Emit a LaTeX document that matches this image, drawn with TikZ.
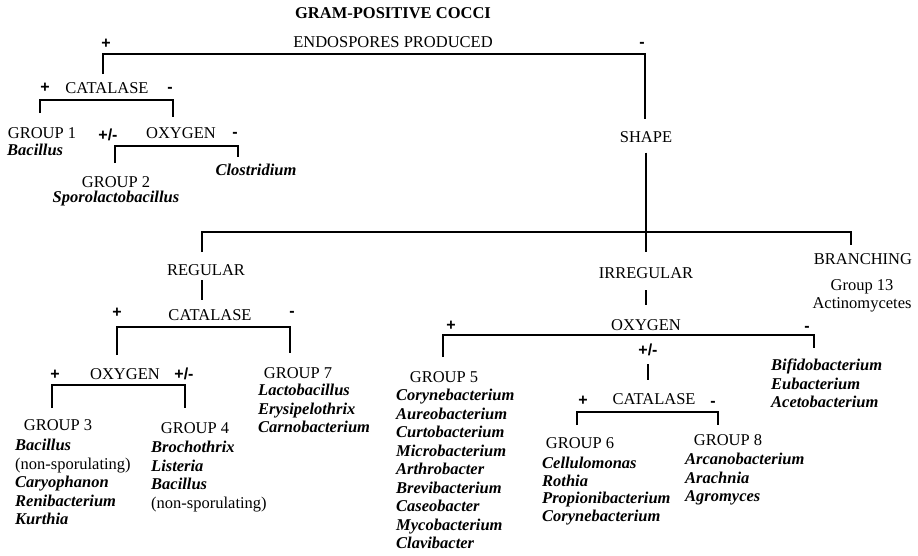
\documentclass[tikz,border=0pt]{standalone}
\usepackage{fontspec}
\setmainfont{Liberation Serif}
\newfontfamily\signfont{Liberation Sans}
\usetikzlibrary{positioning}

\begin{document}
\begin{tikzpicture}[x=1pt,y=-1pt]
      \tikzstyle{lbl}=[inner sep=0pt, font=\fontsize{16.5}{18.5}\selectfont]
      \tikzstyle{head}=[inner sep=0pt, font=\fontsize{16.5}{18.5}\selectfont\bfseries]
      \tikzstyle{genus}=[inner sep=0pt, anchor=north west, align=left, font=\fontsize{16.5}{18.5}\selectfont\bfseries\itshape]
      \tikzstyle{sgn}=[inner sep=0pt, font=\fontsize{16}{16}\signfont\bfseries]
      \tikzstyle{connect}=[line width=1.3pt]

      \useasboundingbox (0,0) rectangle (918,555);

      % top split
      \node[head] (title) at (393,13) {GRAM-POSITIVE COCCI};
      \node[lbl] (endo) at (393,42) {ENDOSPORES PRODUCED};
      \node[sgn] (endop) at (106,44) {+};
      \node[sgn] (endom) at (642,45) {-};

      % endospores +
      \node[sgn] (cat1p) at (45,88) {+};
      \node[lbl] (cat1) at (107,88) {CATALASE};
      \node[sgn] (cat1m) at (170,90) {-};
      \node[lbl] (g1) at (42,133) {GROUP 1};
      \node[genus] (g1list) at (7,144) {Bacillus};
      \node[sgn] (oxy1pm) at (108,135) {+/-};
      \node[lbl] (oxy1) at (181,133) {OXYGEN};
      \node[sgn] (oxy1m) at (235,135) {-};
      \node[lbl] (g2) at (116,182) {GROUP 2};
      \node[genus, anchor=center] (g2list) at (116,199) {Sporolactobacillus};
      \node[genus, anchor=center] (clos) at (256,170) {Clostridium};

      % endospores -
      \node[lbl] (shape) at (646,137) {SHAPE};
      \node[lbl] (reg) at (206,270) {REGULAR};
      \node[lbl] (irreg) at (646,273) {IRREGULAR};
      \node[lbl] (branch) at (863,259) {BRANCHING};
      \node[lbl, align=center, anchor=north] (g13) at (862,279) {Group 13\\Actinomycetes};

      % regular
      \node[sgn] (cat2p) at (117,313) {+};
      \node[lbl] (cat2) at (210,315) {CATALASE};
      \node[sgn] (cat2m) at (292,314) {-};
      \node[sgn] (oxy2p) at (55,375) {+};
      \node[lbl] (oxy2) at (125,374) {OXYGEN};
      \node[sgn] (oxy2pm) at (184,374) {+/-};
      \node[lbl] (g3) at (58,425) {GROUP 3};
      \node[genus] (g3list) at (15,439) {Bacillus\\{\normalfont (non-sporulating)}\\Caryophanon\\Renibacterium\\Kurthia};
      \node[lbl] (g4) at (195,428) {GROUP 4};
      \node[genus] (g4list) at (151,441) {Brochothrix\\Listeria\\Bacillus\\{\normalfont (non-sporulating)}};
      \node[lbl] (g7) at (298,373) {GROUP 7};
      \node[genus] (g7list) at (258,384) {Lactobacillus\\Erysipelothrix\\Carnobacterium};

      % irregular
      \node[sgn] (oxy3p) at (451,326) {+};
      \node[lbl] (oxy3) at (646,325) {OXYGEN};
      \node[sgn] (oxy3m) at (807,329) {-};
      \node[sgn] (oxy3pm) at (648,350) {+/-};
      \node[lbl] (g5) at (444,377) {GROUP 5};
      \node[genus] (g5list) at (396,389) {Corynebacterium\\Aureobacterium\\Curtobacterium\\Microbacterium\\Arthrobacter\\Brevibacterium\\Caseobacter\\Mycobacterium\\Clavibacter};
      \node[genus] (bifid) at (771,359) {Bifidobacterium\\Eubacterium\\Acetobacterium};
      \node[sgn] (cat3p) at (583,401) {+};
      \node[lbl] (cat3) at (654,399) {CATALASE};
      \node[sgn] (cat3m) at (713,404) {-};
      \node[lbl] (g6) at (580,443) {GROUP 6};
      \node[genus, font=\fontsize{16.5}{17.5}\selectfont\bfseries\itshape] (g6list) at (542,457) {Cellulomonas\\Rothia\\Propionibacterium\\Corynebacterium};
      \node[lbl] (g8) at (728,440) {GROUP 8};
      \node[genus] (g8list) at (685,453) {Arcanobacterium\\Arachnia\\Agromyces};

      % brackets
      \coordinate (endoL) at (103,74);
      \coordinate (endoR) at (645,119);
      \coordinate (cat1L) at (40,113);
      \coordinate (cat1R) at (173,117);
      \coordinate (oxy1L) at (115,163);
      \coordinate (oxy1R) at (238,157);
      \coordinate (shapeL) at (202,252);
      \coordinate (shapeR) at (851,245);
      \coordinate (cat2L) at (117,355);
      \coordinate (cat2R) at (290,353);
      \coordinate (oxy2L) at (52,408);
      \coordinate (oxy2R) at (185,408);
      \coordinate (oxy3L) at (443,357);
      \coordinate (oxy3R) at (814,348);
      \coordinate (cat3L) at (577,425);
      \coordinate (cat3R) at (718,425);

      \draw[connect] (endoL) -- ++(0,-20) -| (endoR);
      \draw[connect] (cat1L) -- ++(0,-13) -| (cat1R);
      \draw[connect] (oxy1L) -- ++(0,-17) -| (oxy1R);
      \draw[connect] (shapeL) -- ++(0,-20) -| (shapeR);
      \draw[connect] (cat2L) -- ++(0,-28) -| (cat2R);
      \draw[connect] (oxy2L) -- ++(0,-23) -| (oxy2R);
      \draw[connect] (oxy3L) -- ++(0,-22) -| (oxy3R);
      \draw[connect] (cat3L) -- ++(0,-13) -| (cat3R);

      % stems
      \draw[connect] ([yshift=-10pt]shape.south) -- ([yshift=15pt]irreg.north);
      \draw[connect] ([yshift=-4.5pt]reg.south -| shapeL) -- ([yshift=9.5pt]cat2.north -| shapeL);
      \draw[connect] ([yshift=-11.5pt]irreg.south) -- ([yshift=14.5pt]oxy3.north);
      \draw[connect] ([yshift=-8pt]oxy3pm.south) -- ([yshift=13.5pt]oxy3pm.south |- cat3.north);
\end{tikzpicture}
\end{document}
